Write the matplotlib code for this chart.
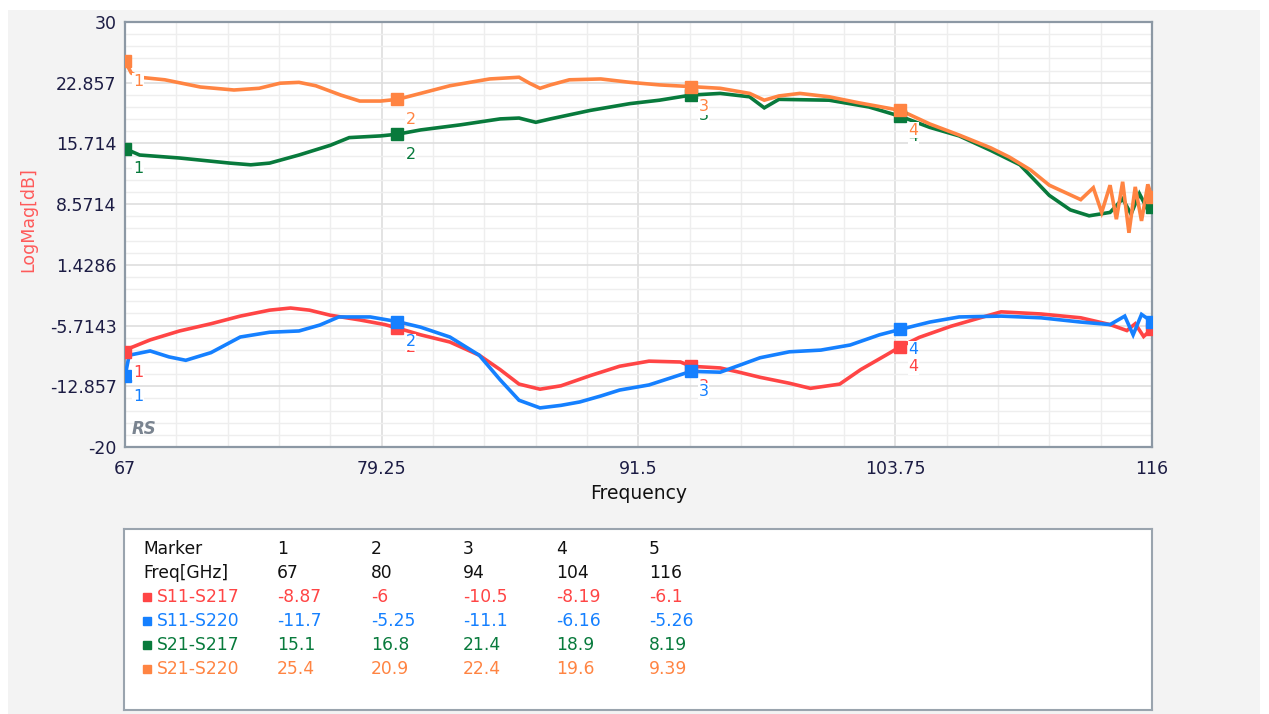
import matplotlib.pyplot as plt
from matplotlib.patches import Rectangle
import numpy as np

# trace data (GHz, dB)
s11_s217_f = [67, 67.3, 68.2, 69.6, 71.1, 72.5, 73.9, 74.9, 75.8, 76.8, 78.2, 79.4, 80, 81.1, 82.5,
              83.9, 84.9, 85.8, 86.8, 87.8, 89.2, 90.6, 92.0, 93.5, 94, 95.4, 96.3, 97.3, 98.7,
              99.7, 101.1, 102.1, 103.3, 104, 104.9, 106.4, 107.8, 108.8, 110.7, 112.6, 114, 114.8,
              115.2, 115.6, 116]
s11_s217_v = [-8.87, -8.3, -7.4, -6.35, -5.5, -4.6, -3.9, -3.65, -3.9, -4.5, -5.05, -5.6, -6.0, -6.8,
              -7.65, -9.2, -10.9, -12.6, -13.2, -12.8, -11.6, -10.5, -9.9, -10.0, -10.5, -10.7, -11.2,
              -11.8, -12.5, -13.1, -12.6, -10.9, -9.2, -8.19, -7.1, -5.8, -4.8, -4.1, -4.35, -4.8,
              -5.6, -6.3, -5.5, -7.0, -6.1]

s11_s220_f = [67, 67.2, 68.2, 69.1, 69.9, 71.1, 72.5, 73.9, 75.3, 76.3, 77.2, 78.7, 80, 81.1, 82.5,
              83.9, 84.9, 85.8, 86.8, 87.8, 88.7, 89.7, 90.6, 92.0, 93.5, 94, 95.4, 96.3, 97.3,
              98.7, 100.2, 101.6, 103, 104, 105.4, 106.8, 108.8, 110.7, 112.6, 114, 114.7, 115.1,
              115.5, 116]
s11_s220_v = [-11.7, -9.2, -8.7, -9.4, -9.8, -8.9, -7.06, -6.5, -6.35, -5.65, -4.7, -4.7, -5.25,
              -5.9, -7.06, -9.2, -12.1, -14.5, -15.4, -15.1, -14.7, -14.0, -13.3, -12.7, -11.5,
              -11.1, -11.2, -10.4, -9.5, -8.8, -8.6, -8.0, -6.8, -6.16, -5.3, -4.7, -4.6, -4.8,
              -5.3, -5.6, -4.6, -6.8, -4.4, -5.26]

s21_s217_f = [67, 67.7, 69.6, 72, 73, 73.9, 75.3, 76.8, 77.7, 79.2, 80, 81.1, 83, 84.9, 85.8, 86.6,
              87.3, 89.2, 91.1, 92.5, 94, 95.4, 96.8, 97.5, 98.2, 100.6, 102.5, 104, 105.4, 106.8,
              108.3, 109.7, 111.1, 112.1, 113, 114, 114.6, 115, 115.4, 115.8, 116]
s21_s217_v = [15.1, 14.35, 14.0, 13.4, 13.2, 13.4, 14.35, 15.5, 16.4, 16.6, 16.8, 17.3, 17.9, 18.6,
              18.7, 18.2, 18.6, 19.6, 20.4, 20.8, 21.4, 21.6, 21.2, 19.9, 20.9, 20.8, 20.0, 18.9,
              17.6, 16.6, 14.9, 13.2, 9.6, 7.9, 7.2, 7.6, 9.2, 7.4, 9.8, 7.9, 8.19]

s21_s220_f = [67, 67.3, 67.7, 68.9, 70.6, 72.2, 73.4, 74.4, 75.3, 76.1, 77.3, 78.2, 79.2, 80, 81.1,
              82.5, 84.4, 85.8, 86.3, 86.8, 87.3, 88.2, 89.7, 91.1, 92.5, 94, 95.4, 96.8, 97.5,
              98.2, 99.2, 100.6, 102, 104, 105.4, 106.8, 108.3, 109.2, 110.2, 111.1, 112.6, 113.2,
              113.6, 114.0, 114.3, 114.6, 114.9, 115.2, 115.5, 115.8, 116]
s21_s220_v = [25.4, 24.0, 23.5, 23.2, 22.35, 22.0, 22.2, 22.8, 22.9, 22.5, 21.4, 20.7, 20.7, 20.9,
              21.6, 22.5, 23.3, 23.5, 22.8, 22.2, 22.6, 23.2, 23.3, 22.9, 22.6, 22.4, 22.2, 21.6,
              20.8, 21.3, 21.6, 21.2, 20.5, 19.6, 18.0, 16.7, 15.2, 14.1, 12.6, 10.8, 9.1, 10.5,
              7.6, 10.8, 6.8, 11.2, 5.2, 10.6, 6.6, 10.9, 9.39]

# marker table
marker_ids = ['1', '2', '3', '4', '5']
marker_freq = [67, 80, 94, 104, 116]
names = ['S11-S217', 'S11-S220', 'S21-S217', 'S21-S220']
marker_vals = [[-8.87, -6, -10.5, -8.19, -6.1],
               [-11.7, -5.25, -11.1, -6.16, -5.26],
               [15.1, 16.8, 21.4, 18.9, 8.19],
               [25.4, 20.9, 22.4, 19.6, 9.39]]
marker_text = [['-8.87', '-6', '-10.5', '-8.19', '-6.1'],
               ['-11.7', '-5.25', '-11.1', '-6.16', '-5.26'],
               ['15.1', '16.8', '21.4', '18.9', '8.19'],
               ['25.4', '20.9', '22.4', '19.6', '9.39']]
colors = ['#ff4545', '#1580ff', '#087a3c', '#ff8442']

yticks = [30, 22.857, 15.714, 8.5714, 1.4286, -5.7143, -12.857, -20]
xticks = [67, 79.25, 91.5, 103.75, 116]

fig = plt.figure(figsize=(12.69, 7.14), dpi=100)
fig.patch.set_facecolor('white')
fig.patches.append(Rectangle((8 / 1269, 0), 1252 / 1269, 704 / 714, transform=fig.transFigure,
                             facecolor='#f3f3f3', edgecolor='none', zorder=-10))

ax = fig.add_axes([125 / 1269, 1 - 447 / 714, 1027 / 1269, 425 / 714])
ax.set_facecolor('white')
ax.set_xlim(67, 116)
ax.set_ylim(-20, 30)
ax.set_xticks(xticks)
ax.set_xticklabels(['67', '79.25', '91.5', '103.75', '116'])
ax.set_yticks(yticks)
ax.set_yticklabels(['30', '22.857', '15.714', '8.5714', '1.4286', '-5.7143', '-12.857', '-20'])
ax.set_xticks(np.arange(67, 116.01, 2.45), minor=True)
ax.set_yticks(np.linspace(-20, 30, 36), minor=True)
ax.grid(True, which='major', color='#dedede', lw=1.2)
ax.grid(True, which='minor', color='#eeeeee', lw=1.0)
ax.set_axisbelow(True)
ax.tick_params(which='both', length=0)
ax.tick_params(axis='both', labelsize=12.5, labelcolor='#1c1c44')
ax.tick_params(axis='y', pad=6)
ax.tick_params(axis='x', pad=9)
for s in ax.spines.values():
    s.set_color('#8c98a4')
    s.set_linewidth(1.6)

traces = [(s11_s217_f, s11_s217_v), (s11_s220_f, s11_s220_v),
          (s21_s217_f, s21_s217_v), (s21_s220_f, s21_s220_v)]
for (f, v), c in zip(traces, colors):
    ax.plot(f, v, color=c, lw=2.6, solid_joinstyle='miter', zorder=3)

for vals, c in zip(marker_vals, colors):
    ax.plot(marker_freq, vals, 's', color=c, ms=8, zorder=4, clip_on=True)
    for mid, fq, vv in zip(marker_ids[:4], marker_freq[:4], vals[:4]):
        ax.annotate(mid, (fq, vv), xytext=(13, -20), textcoords='offset pixels',
                    ha='center', va='center', fontsize=11.5, color=c, zorder=5,
                    bbox=dict(facecolor='white', edgecolor='none', pad=0.3))

ax.text(0.006, 0.02, 'RS', transform=ax.transAxes, fontsize=12, style='italic',
        fontweight='bold', color='#7a8490', ha='left', va='bottom')

ax.set_xlabel('Frequency', fontsize=13.5, color='#111111', labelpad=5)
fig.text(28 / 1269, 1 - 220 / 714, 'LogMag[dB]', rotation=90, color='#ff5a5a',
         fontsize=12.5, ha='center', va='center')

# marker table
tab = fig.add_axes([124 / 1269, 4 / 714, 1028 / 1269, 181 / 714])
tab.set_xlim(124, 1152)
tab.set_ylim(710, 529)
tab.set_xticks([])
tab.set_yticks([])
tab.set_facecolor('white')
for s in tab.spines.values():
    s.set_color('#9aa4ae')
    s.set_linewidth(1.5)

col_x = [277, 371, 463, 556, 649]
row_y = [549, 573, 597, 621, 645, 669]
fs = 12.3
tab.text(143, row_y[0], 'Marker', fontsize=fs, color='#111111', va='center')
tab.text(143, row_y[1], 'Freq[GHz]', fontsize=fs, color='#111111', va='center')
for j, x in enumerate(col_x):
    tab.text(x, row_y[0], marker_ids[j], fontsize=fs, color='#111111', va='center')
    tab.text(x, row_y[1], str(marker_freq[j]), fontsize=fs, color='#111111', va='center')
for i, (name, c) in enumerate(zip(names, colors)):
    y = row_y[i + 2]
    tab.plot(147, y, 's', color=c, ms=6)
    tab.text(157, y, name, fontsize=fs, color=c, va='center')
    for j, x in enumerate(col_x):
        tab.text(x, y, marker_text[i][j], fontsize=fs, color=c, va='center')

fig.savefig('out.png', dpi=100, facecolor=fig.get_facecolor())
